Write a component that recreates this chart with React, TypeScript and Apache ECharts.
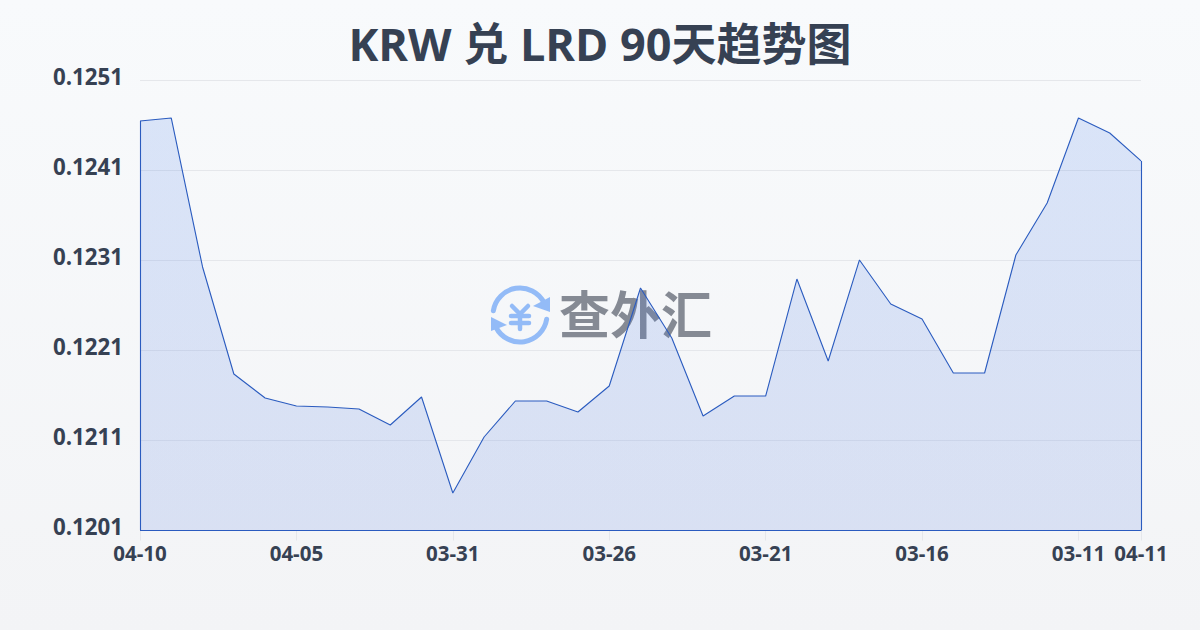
import React, { useEffect, useRef } from "react";
import * as echarts from "echarts";

const titleText = "KRW 兑 LRD 90天趋势图";
const categories = [
  "04-10","04-09","04-08","04-07","04-06","04-05","04-04","04-03","04-02","04-01",
  "03-31","03-30","03-29","03-28","03-27","03-26","03-25","03-24","03-23","03-22",
  "03-21","03-20","03-19","03-18","03-17","03-16","03-15","03-14","03-13","03-12",
  "03-11","03-10","04-11",
];
const rates = [
  0.12465,0.124683,0.123028,0.121839,0.121572,0.121483,0.121472,0.12145,0.121272,0.121583,
  0.120517,0.121139,0.121539,0.121539,0.121417,0.121706,0.122794,0.122239,0.121372,0.121594,
  0.121594,0.122894,0.121983,0.123106,0.122617,0.12245,0.12185,0.12185,0.123161,0.123739,
  0.124683,0.124517,0.124206,
];
const yMin = 0.1201;
const yMax = 0.1251;
const yStep = 0.001;

const FONT = '"Open Sans", "Noto Sans CJK SC", sans-serif';
const LINE = "#2a5bbf";
const ICON = "#93bbf7";
const INK = "#364153";

export default function App() {
  const ref = useRef<HTMLDivElement>(null);
  useEffect(() => {
    document.body.style.margin = "0";
    const chart = echarts.init(ref.current!, undefined, { renderer: "svg" });
    const last = categories.length - 1;
    const iconStroke = { stroke: ICON, lineWidth: 5, lineCap: "round", fill: "none" };
    chart.setOption({
      animation: false,
      backgroundColor: {
        type: "linear", x: 0, y: 0, x2: 0, y2: 1,
        colorStops: [{ offset: 0, color: "#f8fafc" }, { offset: 1, color: "#f3f4f6" }],
      },
      title: {
        text: titleText, left: "center", top: 16,
        textStyle: { fontFamily: FONT, fontSize: 45, fontWeight: "bold", color: INK },
      },
      grid: { left: 140, right: 59, top: 80.5, bottom: 99.5 },
      xAxis: {
        type: "category", boundaryGap: false, data: categories,
        axisLine: { show: false },
        axisTick: { show: true, length: 10, lineStyle: { color: "#e5e7eb" }, interval: (i: number) => i % 5 === 0 || i === last },
        axisLabel: {
          interval: (i: number) => i % 5 === 0 || i === last,
          fontFamily: FONT, fontSize: 20.5, fontWeight: "bold", color: INK, margin: 12,
        },
      },
      yAxis: {
        type: "value", min: yMin, max: yMax, interval: yStep,
        axisLine: { show: false }, axisTick: { show: false },
        splitLine: { lineStyle: { color: "#e5e7eb", width: 1 } },
        axisLabel: {
          formatter: (v: number) => v.toFixed(4),
          fontFamily: FONT, fontSize: 22.3, fontWeight: "bold", color: INK, margin: 17,
          verticalAlign: "bottom", lineHeight: 8,
        },
      },
      graphic: [
        { type: "arc", z: 0, shape: { cx: 520, cy: 315, r: 27, startAngle: Math.PI * 1.05, endAngle: Math.PI * 1.85 }, style: iconStroke },
        { type: "arc", z: 0, shape: { cx: 520, cy: 315, r: 27, startAngle: Math.PI * 0.05, endAngle: Math.PI * 0.85 }, style: iconStroke },
        { type: "polygon", z: 0, shape: { points: [[550, 297], [550, 312], [533, 306]] }, style: { fill: ICON } },
        { type: "polygon", z: 0, shape: { points: [[491, 317], [491, 331], [507, 325]] }, style: { fill: ICON } },
        { type: "polyline", z: 0, shape: { points: [[512, 306], [520, 314], [528, 306]] }, style: { ...iconStroke, lineWidth: 4.5 } },
        { type: "line", z: 0, shape: { x1: 511, y1: 316, x2: 529, y2: 316 }, style: { ...iconStroke, lineWidth: 4.5 } },
        { type: "line", z: 0, shape: { x1: 511, y1: 323, x2: 529, y2: 323 }, style: { ...iconStroke, lineWidth: 4.5 } },
        { type: "line", z: 0, shape: { x1: 520, y1: 314, x2: 520, y2: 329 }, style: { ...iconStroke, lineWidth: 4.5 } },
        {
          type: "text", z: 0, x: 559, y: 286,
          style: { text: "查外汇", fontFamily: '"Noto Sans CJK SC", sans-serif', fontWeight: "bold", fontSize: 51, fill: "#858a94" },
        },
      ],
      series: [
        {
          type: "line", data: rates, symbol: "none", z: 3,
          lineStyle: { color: LINE, width: 1.1 },
          areaStyle: {
            color: {
              type: "linear", x: 0, y: 0, x2: 0, y2: 1,
              colorStops: [{ offset: 0, color: "rgba(85,135,235,0.26)" }, { offset: 1, color: "rgba(60,105,220,0.21)" }],
            },
          },
          markLine: {
            silent: true, symbol: "none", label: { show: false }, animation: false,
            lineStyle: { color: LINE, width: 1.1, type: "solid" },
            data: [
              [{ coord: [categories[0], yMin] }, { coord: [categories[0], rates[0]] }],
              [{ coord: [categories[last], yMin] }, { coord: [categories[last], rates[last]] }],
              [{ coord: [categories[0], yMin] }, { coord: [categories[last], yMin] }],
            ],
          },
        },
      ],
    });
    return () => chart.dispose();
  }, []);
  return <div ref={ref} style={{ width: 1200, height: 630 }} />;
}
